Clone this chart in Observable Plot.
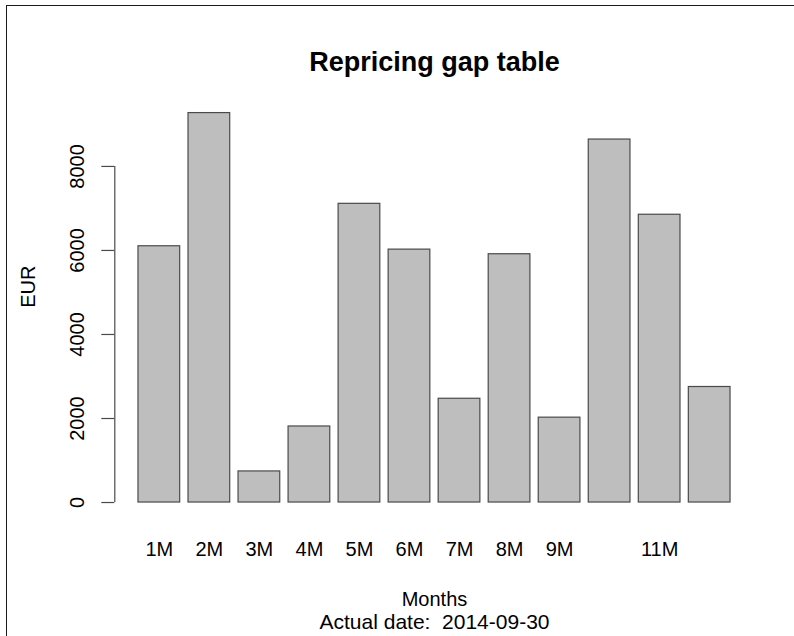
<!DOCTYPE html>
<html>
<head>
<meta charset="utf-8">
<script src="https://cdn.jsdelivr.net/npm/d3@7"></script>
<script src="https://cdn.jsdelivr.net/npm/@observablehq/plot@0.6"></script>
<style>
  html, body { margin: 0; padding: 0; background: #fff; }
  #wrap { position: relative; width: 794px; height: 636px; overflow: hidden; }
  #wrap svg { position: absolute; left: 0; top: 0; }
  .edgeTop { position: absolute; left: 7px; top: 5px; right: 0; height: 0; border-top: 1.5px solid #1a1a1a; }
  .edgeLeft { position: absolute; left: 6px; top: 5px; bottom: 0; width: 0; border-left: 1.5px solid #1a1a1a; }
</style>
</head>
<body>
<div id="wrap"><div class="edgeTop"></div><div class="edgeLeft"></div></div>
<script>
// ---- data ----
const months = ["1M", "2M", "3M", "4M", "5M", "6M", "7M", "8M", "9M", "10M", "11M", "12M"];
const values = [6100, 9270, 740, 1810, 7110, 6020, 2470, 5910, 2020, 8640, 6850, 2750];
const yTicks = [0, 2000, 4000, 6000, 8000];
const xTickLabels = ["1M", "2M", "3M", "4M", "5M", "6M", "7M", "8M", "9M", "11M"];
const title = "Repricing gap table";
const xLabel = "Months";
const subLabel = "Actual date:  2014-09-30";
const yLabel = "EUR";

// ---- barplot layout (R barplot defaults: width 1, space 0.2, 4% axis expansion) ----
const space = 0.2, barWidth = 1;
const rows = months.map((m, i) => ({
  month: m,
  value: values[i],
  x1: space + i * (barWidth + space),
  x2: space + i * (barWidth + space) + barWidth
}));
const mid = new Map(rows.map(r => [r.month, (r.x1 + r.x2) / 2]));
const xMin = rows[0].x1, xMax = rows[rows.length - 1].x2;
const xPad = 0.04 * (xMax - xMin);
const yMax = d3.max(values);
const yPad = 0.04 * yMax;

const font = "'Liberation Sans', Helvetica, Arial, sans-serif";

const chart = Plot.plot({
  width: 794,
  height: 636,
  marginLeft: 114.3,
  marginRight: 40.3,
  marginTop: 97,
  marginBottom: 118.4,
  style: { fontFamily: font, background: "transparent", color: "#000" },
  x: { type: "linear", domain: [xMin - xPad, xMax + xPad], axis: null },
  y: { domain: [-yPad, yMax + yPad], axis: null },
  marks: [
    Plot.rectY(rows, {
      x1: "x1", x2: "x2", y1: 0, y2: "value",
      fill: "#bebebe", stroke: "#4a4a4a", strokeWidth: 1.2
    }),
    // y axis line from first to last tick
    Plot.ruleX([xMin - xPad], { y1: yTicks[0], y2: yTicks[yTicks.length - 1], stroke: "#4a4a4a", strokeWidth: 1.2 }),
    Plot.axisY({
      ticks: yTicks, tickSize: 13, tickPadding: 18, tickRotate: -90,
      fontSize: 20, stroke: "#4a4a4a", strokeWidth: 1.2, strokeOpacity: 1,
      fill: "#000", label: null, tickFormat: d => String(d)
    }),
    Plot.text(xTickLabels, {
      x: d => mid.get(d), text: d => d, frameAnchor: "bottom",
      lineAnchor: "bottom", dy: 38, fontSize: 20, fill: "#000"
    }),
    Plot.text([title], {
      frameAnchor: "top", lineAnchor: "bottom", dy: -27,
      fontSize: 27, fontWeight: "bold", fill: "#000"
    }),
    Plot.text([xLabel], {
      frameAnchor: "bottom", lineAnchor: "bottom", dy: 88, fontSize: 20, fill: "#000"
    }),
    Plot.text([subLabel], {
      frameAnchor: "bottom", lineAnchor: "bottom", dy: 111, fontSize: 21, fill: "#000"
    }),
    Plot.text([yLabel], {
      frameAnchor: "left", rotate: -90, dx: -86, fontSize: 20, fill: "#000"
    })
  ]
});
document.getElementById("wrap").prepend(chart);
</script>
</body>
</html>
